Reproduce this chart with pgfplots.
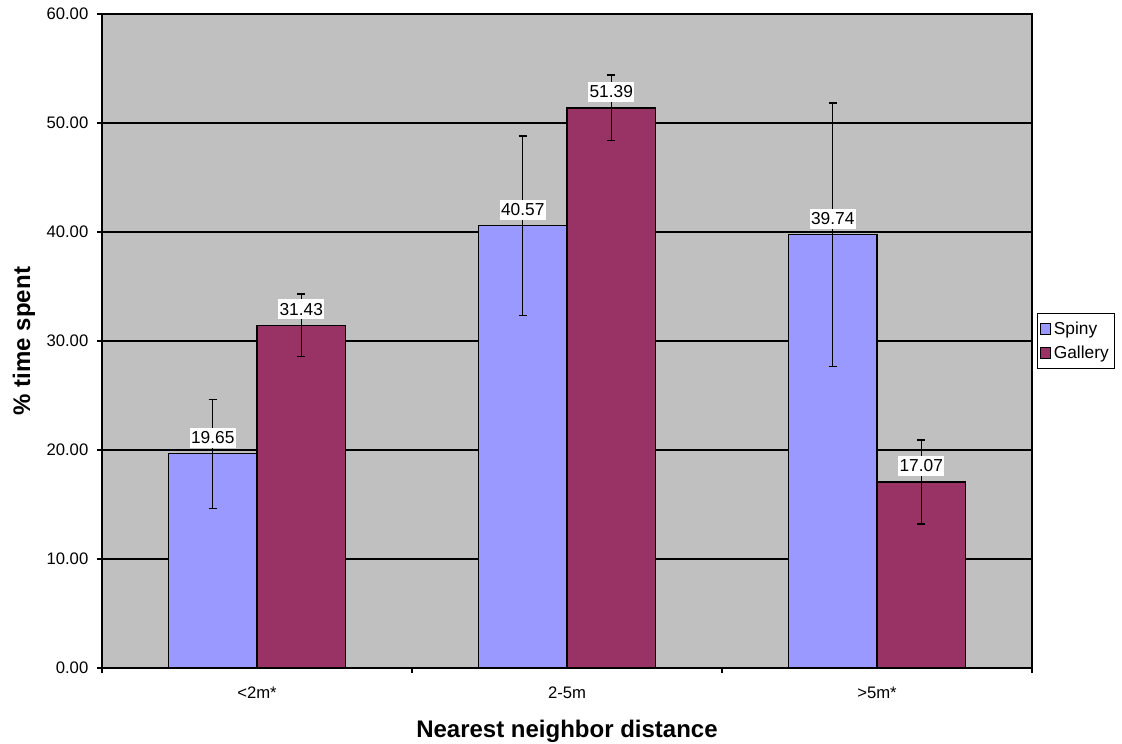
\documentclass[border=0pt]{standalone}
\usepackage{fontspec}
\setmainfont{Liberation Sans}
\usepackage{pgfplots}
\usepackage{pgfplotstable}
\pgfplotsset{compat=1.18}
\definecolor{spiny}{HTML}{9999FF}
\definecolor{gallery}{HTML}{993366}
\definecolor{plotbg}{HTML}{C0C0C0}
\pgfplotstableread{
x y e
0 19.65 5.00
1 40.57 8.25
2 39.74 12.10
}\spiny
\pgfplotstableread{
x y e
0 31.43 2.87
1 51.39 3.00
2 17.07 3.85
}\gallery
\begin{document}
\begin{tikzpicture}
\pgfkeys{/pgf/number format/assume math mode=true}
\begin{axis}[
  scale only axis,
  width=697.5pt, height=490.5pt,
  xmin=-0.5, xmax=2.5,
  ymin=0, ymax=60,
  axis background/.style={fill=plotbg},
  axis line style={black, line width=0.8pt},
  ybar=0pt,
  bar width=66.4pt,
  xtick={-0.5,0.5,1.5,2.5},
  xticklabels={},
  extra x ticks={0,1,2},
  extra x tick labels={<2m*,2-5m,>5m*},
  extra x tick style={major tick length=0pt},
  ytick={0,10,...,60},
  tick align=outside,
  xtick pos=bottom, ytick pos=left,
  major tick length=3.75pt,
  tick style={black, line width=0.8pt},
  ymajorgrids,
  grid style={black, line width=0.8pt},
  yticklabel style={/pgf/number format/.cd, fixed, fixed zerofill, precision=2, /tikz/.cd, font=\fontsize{12.5}{15}\selectfont, xshift=-3pt},
  xticklabel style={font=\fontsize{12.5}{15}\selectfont, anchor=base, yshift=-23.25pt},
  xlabel={Nearest neighbor distance},
  ylabel={\% time spent},
  xlabel style={font=\fontsize{18}{21}\selectfont\bfseries, at={(axis description cs:0.5,0)}, anchor=base, yshift=-52.5pt},
  ylabel style={font=\fontsize{18}{21}\selectfont\bfseries, at={([xshift=-58.5pt]axis description cs:0,0.5)}, anchor=center},
  nodes near coords={\pgfmathprintnumber[fixed,fixed zerofill,precision=2]{\pgfplotspointmeta}},
  every node near coord/.append style={font=\fontsize{13}{15}\selectfont, text=black, fill=white, draw=none, inner xsep=1pt, inner ysep=3pt, anchor=south, yshift=4pt},
  error bars/error bar style={black, line width=1.1pt},
  error bars/error mark options={black, line width=1.1pt, mark size=3pt, rotate=90},
  legend style={at={(1.005,0.5)}, anchor=west, draw=black, fill=white, line width=0.6pt, font=\fontsize{13}{15}\selectfont, inner xsep=2pt, inner ysep=4pt, row sep=3pt, cells={anchor=west}},
  legend image code/.code={\draw[#1, line width=0.6pt] (0pt,-4pt) rectangle (8pt,4pt);},
]
\addplot[fill=spiny, draw=black, line width=1pt, error bars/.cd, y dir=both, y explicit] table[x=x, y=y, y error=e] {\spiny};
\addplot[fill=gallery, draw=black, line width=1pt, error bars/.cd, y dir=both, y explicit] table[x=x, y=y, y error=e] {\gallery};
\legend{Spiny, Gallery}
\end{axis}
\pgfresetboundingbox
\path ([shift={(-76.5pt,-57pt)}]current axis.south west) rectangle ([shift={(67.5pt,10.5pt)}]current axis.north east);
\end{tikzpicture}
\end{document}
